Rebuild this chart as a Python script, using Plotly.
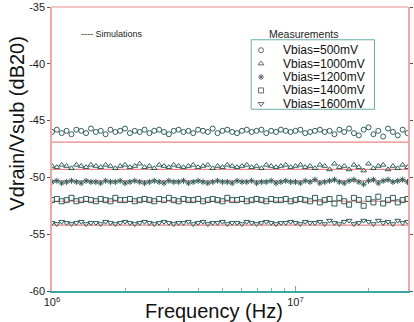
import plotly.graph_objects as go

# Frequency sweep (MHz)
freq_mhz = [
    1.000, 1.047, 1.096, 1.148, 1.202, 1.259, 1.318, 1.380, 1.445, 1.514,
    1.585, 1.660, 1.738, 1.820, 1.905, 1.995, 2.089, 2.188, 2.291, 2.399,
    2.512, 2.630, 2.754, 2.884, 3.020, 3.162, 3.311, 3.467, 3.631, 3.802,
    3.981, 4.169, 4.365, 4.571, 4.786, 5.012, 5.248, 5.495, 5.754, 6.026,
    6.310, 6.607, 6.918, 7.244, 7.586, 7.943, 8.318, 8.710, 9.120, 9.550,
    10.00, 10.47, 10.96, 11.48, 12.02, 12.59, 13.18, 13.80, 14.45, 15.14,
    15.85, 16.60, 17.38, 18.20, 19.05, 19.95, 20.89, 21.88, 22.91, 23.99,
    25.12, 26.30, 27.54, 28.84,
]

v500 = [
    -46.0, -45.8, -46.1, -45.9, -46.2, -45.8, -45.9, -46.1, -45.7, -46.0,
    -45.9, -46.2, -45.8, -46.0, -45.9, -45.7, -46.1, -45.9, -46.0, -45.8,
    -46.1, -45.9, -45.8, -46.0, -46.2, -45.9, -45.8, -46.0, -45.9, -46.1,
    -45.8, -45.9, -46.0, -45.7, -46.1, -45.9, -45.8, -46.0, -46.1, -45.9,
    -45.8, -46.0, -45.9, -45.8, -46.1, -45.9, -46.0, -45.8, -45.9, -46.0,
    -45.9, -45.8, -46.1, -46.0, -45.9, -45.8, -46.0, -45.9, -46.2, -45.8,
    -46.0, -45.7, -46.1, -46.3, -45.8, -45.6, -46.2, -45.9, -46.4, -45.7,
    -46.0, -46.3, -45.8, -46.1,
]
v1000 = [
    -49.0, -49.1, -48.9, -49.0, -49.2, -48.9, -49.0, -49.1, -48.9, -49.0,
    -49.1, -48.9, -49.0, -49.2, -49.0, -48.9, -49.1, -49.0, -48.8, -49.1,
    -49.0, -49.2, -48.9, -49.0, -49.1, -48.9, -49.0, -49.1, -49.0, -48.9,
    -49.1, -49.0, -48.9, -49.2, -49.0, -49.1, -48.9, -49.0, -49.1, -49.0,
    -48.9, -49.1, -49.0, -49.2, -48.9, -49.0, -49.1, -49.0, -48.9, -49.1,
    -49.0, -48.9, -49.1, -49.0, -49.2, -48.9, -49.0, -49.3, -48.8, -49.1,
    -49.0, -49.3, -48.9, -49.1, -49.4, -48.8, -49.2, -49.0, -48.9, -49.3,
    -49.0, -49.2, -48.9, -49.1,
]
v1200 = [
    -50.4, -50.3, -50.5, -50.4, -50.3, -50.4, -50.5, -50.3, -50.4, -50.4,
    -50.5, -50.3, -50.4, -50.4, -50.3, -50.5, -50.4, -50.3, -50.4, -50.5,
    -50.4, -50.3, -50.4, -50.5, -50.3, -50.4, -50.4, -50.3, -50.5, -50.4,
    -50.3, -50.4, -50.5, -50.4, -50.3, -50.4, -50.4, -50.5, -50.3, -50.4,
    -50.4, -50.3, -50.5, -50.4, -50.4, -50.3, -50.5, -50.4, -50.3, -50.4,
    -50.4, -50.5, -50.3, -50.4, -50.2, -50.5, -50.4, -50.3, -50.2, -50.4,
    -50.5, -50.3, -50.2, -50.4, -50.6, -50.3, -50.2, -50.5, -50.3, -50.2,
    -50.4, -50.3, -50.2, -50.4,
]
v1400 = [
    -52.0, -51.9, -52.1, -52.0, -51.8, -52.1, -52.0, -51.9, -52.0, -52.1,
    -51.9, -52.0, -52.1, -51.8, -52.0, -52.0, -51.9, -52.1, -52.0, -51.9,
    -52.0, -52.1, -51.9, -52.0, -51.8, -52.0, -52.1, -51.9, -52.0, -52.0,
    -51.9, -52.1, -52.0, -51.9, -52.0, -52.1, -51.8, -52.0, -52.0, -51.9,
    -52.1, -52.0, -51.9, -52.0, -52.1, -51.9, -52.0, -52.0, -51.9, -52.1,
    -52.0, -51.9, -52.0, -52.1, -51.8, -52.2, -52.0, -51.9, -52.3, -51.8,
    -52.1, -52.4, -51.8, -52.0, -52.5, -51.9, -52.2, -51.7, -52.3, -52.0,
    -51.8, -52.2, -52.0, -51.9,
]
v1600 = [
    -54.0, -54.1, -53.9, -54.0, -54.1, -54.0, -53.9, -54.1, -54.0, -54.0,
    -54.1, -53.9, -54.0, -54.1, -54.0, -53.9, -54.0, -54.1, -54.0, -53.9,
    -54.0, -54.1, -54.0, -53.9, -54.0, -54.1, -54.0, -54.0, -53.9, -54.1,
    -54.0, -53.9, -54.1, -54.0, -54.0, -53.9, -54.1, -54.0, -54.0, -54.1,
    -53.9, -54.0, -54.1, -54.0, -53.9, -54.0, -54.1, -54.0, -54.0, -53.9,
    -54.0, -54.1, -53.9, -54.0, -54.0, -53.9, -54.1, -53.8, -54.0, -54.1,
    -53.9, -53.8, -54.1, -54.0, -53.8, -53.9, -54.1, -53.8, -54.0, -53.9,
    -54.1, -53.8, -54.0, -53.9,
]

bias_labels = ["Vbias=500mV", "Vbias=1000mV", "Vbias=1200mV", "Vbias=1400mV", "Vbias=1600mV"]
sim_levels = [-46.9, -49.3, -50.3, -52.1, -54.2]
sim_freq_mhz = [1.0, 29.0]

y_ticks = [-60, -55, -50, -45, -40, -35]
y_tick_text = ["-60", "-55", "-50", "-45", "-40", "-35"]
x_tick_vals = [1e6, 1e7]
x_tick_text = ["10<sup>6</sup>", "10<sup>7</sup>"]
x_minor_vals = [2e6, 3e6, 4e6, 5e6, 6e6, 7e6, 8e6, 9e6, 2e7]

symbols = ["circle-open", "triangle-up-open", "asterisk-open", "square-open", "triangle-down-open"]
meas = [v500, v1000, v1200, v1400, v1600]
MCOL = "#2f5f5a"

freq_hz = [f * 1e6 for f in freq_mhz]
sim_hz = [f * 1e6 for f in sim_freq_mhz]

# plot-area geometry in pixels (used to place the hand-built legend)
W, H = 414, 322
L, R, T, B = 52, 1, 5, 31
PW, PH = W - L - R, H - T - B


def px(x):
    return (x - L) / PW


def py(y):
    return (H - B - y) / PH


fig = go.Figure()

for lvl in sim_levels:
    fig.add_trace(go.Scatter(
        x=sim_hz, y=[lvl, lvl], mode="lines",
        line=dict(color="#e98585", width=1.2),
        showlegend=False, hoverinfo="skip",
    ))

for vals, lab, sym in zip(meas, bias_labels, symbols):
    fig.add_trace(go.Scatter(
        x=freq_hz, y=vals, mode="markers", name=lab, showlegend=False,
        marker=dict(symbol=sym, size=5, color=MCOL, line=dict(width=1, color=MCOL)),
    ))

# hand-built legend (compact spacing like the reference), on an overlay 0..1 axis
leg_left, leg_right, leg_top, leg_bot = 254, 379, 38, 108
fig.add_shape(type="rect", xref="paper", yref="paper",
              x0=px(leg_left), x1=px(leg_right), y0=py(leg_bot), y1=py(leg_top),
              line=dict(color="#6aaeaa", width=1), fillcolor="white", layer="below")
for i, (lab, sym) in enumerate(zip(bias_labels, symbols)):
    yy = py(48.5 + i * 13.5)
    fig.add_trace(go.Scatter(
        x=[px(264)], y=[yy], xaxis="x2", yaxis="y2", mode="markers",
        marker=dict(symbol=sym, size=5, color="#667", line=dict(width=1, color="#667")),
        showlegend=False, hoverinfo="skip", cliponaxis=False,
    ))
    fig.add_annotation(text=lab, xref="paper", yref="paper", x=px(284), y=yy,
                       xanchor="left", yanchor="middle", showarrow=False,
                       font=dict(size=12, color="#111"))

fig.update_layout(
    width=W, height=H,
    margin=dict(l=L, r=R, t=T, b=B),
    paper_bgcolor="white", plot_bgcolor="white",
    font=dict(family="Liberation Sans, Arial, sans-serif", color="#111"),
    showlegend=False,
    xaxis2=dict(overlaying="x", range=[0, 1], visible=False, fixedrange=True),
    yaxis2=dict(overlaying="y", range=[0, 1], visible=False, fixedrange=True),
)

fig.update_layout(xaxis=dict(
    type="log", range=[6, 7.462],
    showline=True, linecolor="#3aa8a2", linewidth=2,
    showgrid=False, zeroline=False,
    tickvals=x_tick_vals, ticktext=x_tick_text,
    ticks="inside", ticklen=5, tickcolor="#6aaeaa",
    tickfont=dict(size=11, color="#222"),
    minor=dict(tickvals=x_minor_vals, ticks="inside", ticklen=3, tickcolor="#7bbab6",
               tickwidth=1, showgrid=False),
))
fig.update_layout(yaxis=dict(
    range=[-60, -35], tickvals=y_ticks, ticktext=y_tick_text,
    showline=True, linecolor="#f2a6a6", linewidth=1.5, mirror="ticks",
    showgrid=False, zeroline=False,
    ticks="outside", ticklen=3, tickcolor="#555",
    tickfont=dict(size=11, color="#222"), ticklabeloverflow="allow",
))

# top frame line
fig.add_shape(type="line", xref="paper", yref="paper", x0=0, x1=1, y0=1, y1=1,
              line=dict(color="#f2b0b0", width=1.5))

fig.add_annotation(text="Vdrain/Vsub (dB20)", xref="paper", yref="paper",
                   x=px(17), y=py(122), xanchor="center", yanchor="middle",
                   textangle=-90, showarrow=False, font=dict(size=20, color="#111"))
fig.add_annotation(text="Frequency (Hz)", xref="paper", yref="paper",
                   x=px(216), y=py(311), xanchor="center", yanchor="middle",
                   showarrow=False, font=dict(size=20, color="#111"))
fig.add_annotation(text="---- Simulations", xref="paper", yref="paper",
                   x=px(79), y=py(32), xanchor="left", yanchor="middle",
                   showarrow=False, font=dict(size=9, color="#222"))
fig.add_annotation(text="Measurements", xref="paper", yref="paper",
                   x=px(307), y=py(32), xanchor="center", yanchor="middle",
                   showarrow=False, font=dict(size=10.5, color="#222"))

fig.write_html("out.html")
